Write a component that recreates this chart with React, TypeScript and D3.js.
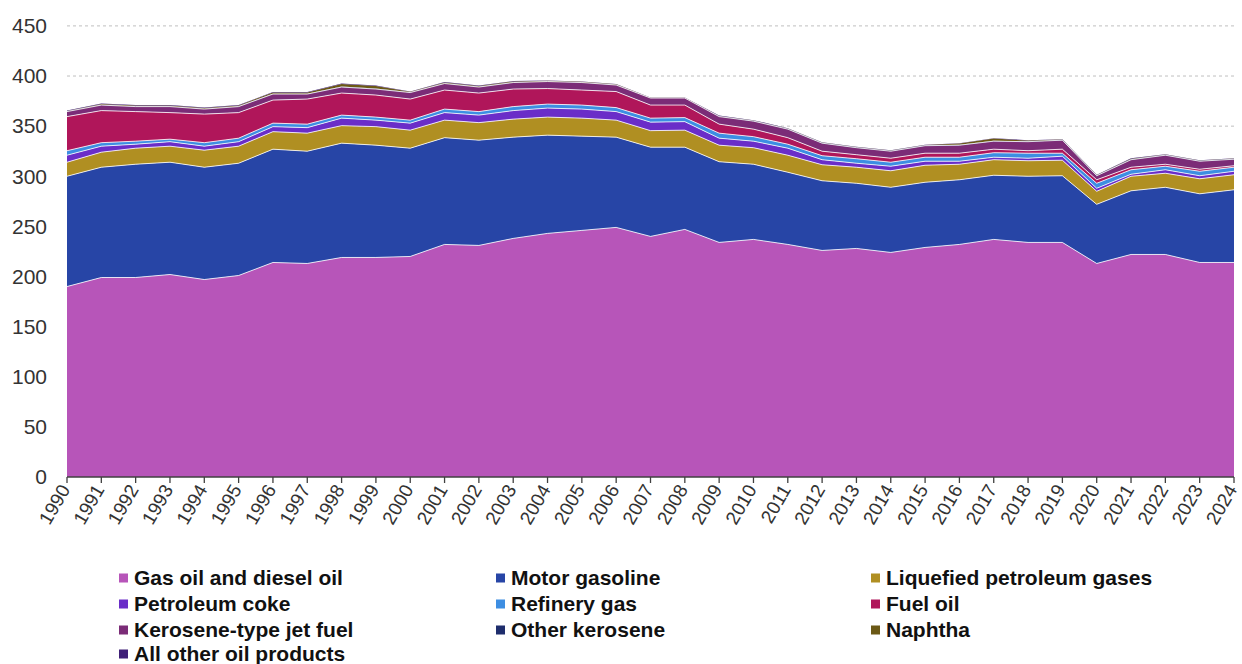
import React from 'react';
import * as d3 from 'd3';

const years = [1990,1991,1992,1993,1994,1995,1996,1997,1998,1999,2000,2001,2002,2003,2004,2005,2006,2007,2008,2009,2010,2011,2012,2013,2014,2015,2016,2017,2018,2019,2020,2021,2022,2023,2024];

const gasOil = [190,199,199,202,197,201,214,213,219,219,220,232,231,238,243,246,249,240,247,234,237,232,226,228,224,229,232,237,234,234,213,222,222,214,214];
const motorGasoline = [110,110,113,112,112,112,113,112,114,112,108,106.5,105,101,98,94,90,89,82,80.5,75,72,69.5,65,65,65,64.5,64,66,66.5,59,63.5,67,68.5,72.5];
const lpg = [14,15,16,16,17,17,17.5,18,17.5,18.5,18,17.5,17.5,18,18,18,17,16.5,17,16.5,16.5,17,16,16,16.5,17,15.5,15.5,15.5,15.5,13,14.5,14,15,15];
const petroleumCoke = [7,6,4,4.5,4,4.5,5,5.5,7.5,6.5,7,7.5,7.5,8.5,9,9,8.5,8.5,8.5,7,6.5,7,5,4,4.5,4,3,2.5,2.5,4,3,2,3.5,3,3.5];
const refineryGas = [4.5,3.5,3,2.5,3.5,3.5,3.5,3.5,3,3,3,3.5,3.5,4,4,4,4,4,4,5,4.5,4,4,4.5,4,4,4,4.5,5,3,5,4.5,3.5,4.5,4];
const fuelOil = [34,32,29.5,26.5,28.5,25.5,23,25,22,22,21,19,18.5,17.5,15.5,15,16,13,12.5,9,7.5,6.5,4.5,4,4,4,4,3.5,2.5,4,3.5,2.5,2,2,1.5];
const jetFuel = [5,5.5,5,6,5,6,6,5,6,6,6.5,6.5,6,6.5,7,7.5,6.5,7,7,7.5,8,8.5,8,7,7,7.5,8,8,9,9,4,7.5,9,8,6.5];
const otherKerosene = [0.3,0.4,0.4,0.4,0.4,0.4,0.4,0.4,0.5,0.5,0.3,0.4,0.4,0.4,0.3,0.3,0.3,0.2,0.2,0.4,0.4,0.4,0.4,0.4,0.4,0.4,0.4,0.4,0.4,0.4,0.4,0.5,0.4,0.4,0.4];
const naphtha = [0.4,0.8,0.8,0.8,0.8,0.8,1.2,1.2,2.5,2.5,0.4,0.7,0.7,0.7,0.4,0.4,0.4,0.1,0.1,0.3,0.3,0.3,0.3,0.3,0.3,0.3,1.2,2.2,0.7,0.3,0.3,0.5,0.3,0.3,0.3];
const allOther = [0.3,0.3,0.3,0.3,0.3,0.3,0.4,0.4,0.5,0.5,0.3,0.4,0.4,0.4,0.3,0.3,0.3,0.2,0.2,0.3,0.3,0.3,0.3,0.3,0.3,0.3,0.4,0.4,0.4,0.3,0.3,0.5,0.3,0.3,0.3];

const seriesNames = ['Gas oil and diesel oil','Motor gasoline','Liquefied petroleum gases','Petroleum coke','Refinery gas','Fuel oil','Kerosene-type jet fuel','Other kerosene','Naphtha','All other oil products'];
const seriesValues = [gasOil, motorGasoline, lpg, petroleumCoke, refineryGas, fuelOil, jetFuel, otherKerosene, naphtha, allOther];
const seriesColors = ['#B755B9','#2745A6','#B08F22','#6A2DC8','#3D8EE2','#B0165A','#7B2C77','#1E2D6C','#6B5915','#3F1F77'];
const yTicks = [0,50,100,150,200,250,300,350,400,450];

export default function App() {
  const W = 1242, H = 664;
  const x = d3.scaleLinear().domain([1990, 2024]).range([67, 1234]);
  const y = d3.scaleLinear().domain([0, 450]).range([477, 25.9]);
  const keys = seriesNames.map((_, i) => 'k' + i);
  const data = years.map((yr, i) => {
    const o: any = { year: yr };
    seriesValues.forEach((arr, k) => { o['k' + k] = arr[i]; });
    return o;
  });
  const stacked = d3.stack<any>().keys(keys)(data);
  const area = d3.area<any>().x(d => x(d.data.year)).y0(d => y(d[0])).y1(d => y(d[1]));
  const topLine = d3.line<any>().x(d => x(d.data.year)).y(d => y(d[1]));
  const font = '"Liberation Sans", Arial, sans-serif';
  const legendCols = [119, 496, 871];
  const legendRows = [578, 604, 630, 654];

  return (
    <svg width={W} height={H} style={{ position: 'absolute', left: 0, top: 0, background: '#fff' }} fontFamily={font}>
      {yTicks.map(t => (
        <g key={t}>
          {t > 0 && <line x1={67} x2={1234} y1={y(t)} y2={y(t)} stroke="#BFBFBF" strokeWidth={1} strokeDasharray="3,3" />}
          <text x={47} y={y(t)} dy="0.35em" textAnchor="end" fontSize={21} fill="#333">{t}</text>
        </g>
      ))}
      {stacked.map((s, i) => (
        <path key={'a' + i} d={area(s) || ''} fill={seriesColors[i]} />
      ))}
      {stacked.slice(0, 7).map((s, i) => (
        <path key={'l' + i} d={topLine(s) || ''} fill="none" stroke="#ffffff" strokeOpacity={0.8} strokeWidth={1} />
      ))}
      <line x1={67} x2={1234} y1={477} y2={477} stroke="#404040" strokeWidth={1.3} />
      {years.map(yr => (
        <g key={yr}>
          <line x1={x(yr)} x2={x(yr)} y1={477} y2={483} stroke="#404040" strokeWidth={1.3} />
          <text transform={`translate(${x(yr) - 2},${486}) rotate(-60)`} textAnchor="end" dy="0.35em" fontSize={19} fill="#333">{yr}</text>
        </g>
      ))}
      {seriesNames.map((n, i) => {
        const col = i % 3, row = Math.floor(i / 3);
        const lx = legendCols[col], ly = legendRows[row];
        return (
          <g key={n}>
            <rect x={lx} y={ly - 4.5} width={9} height={9} fill={seriesColors[i]} />
            <text x={lx + 15} y={ly} dy="0.35em" fontSize={21} fontWeight="bold" fill="#111">{n}</text>
          </g>
        );
      })}
    </svg>
  );
}
